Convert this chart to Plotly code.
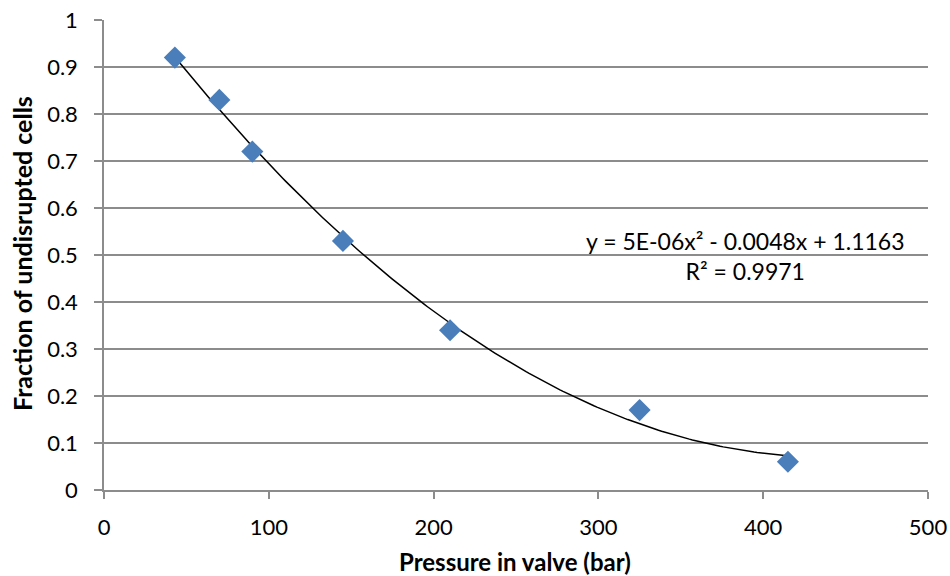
import numpy as np
import plotly.graph_objects as go

pressure_bar = [43, 70, 90, 145, 210, 325, 415]
fraction_undisrupted = [0.92, 0.83, 0.72, 0.53, 0.34, 0.17, 0.06]
equation_text = "y = 5E-06x² - 0.0048x + 1.1163<br>R² = 0.9971"
x_title = "Pressure in valve (bar)"
y_title = "Fraction of undisrupted cells"
x_ticks = [0, 100, 200, 300, 400, 500]
y_ticks = [0, 0.1, 0.2, 0.3, 0.4, 0.5, 0.6, 0.7, 0.8, 0.9, 1]

# Polynomial (order 2) trendline fitted from the data, as Excel does
coef = np.polyfit(pressure_bar, fraction_undisrupted, 2)
xt = np.linspace(min(pressure_bar), max(pressure_bar), 200)
yt = np.polyval(coef, xt)

FONT = "Lato, 'Open Sans', sans-serif"
GRAY = "#8c8c8c"
W, H = 950, 576
L, R, T, B = 104, 22, 20, 86
pw, ph = W - L - R, H - T - B

def px(xp):
    return (xp - L) / pw

def py(yp):
    return (H - B - yp) / ph

fig = go.Figure()
fig.add_trace(go.Scatter(x=xt, y=yt, mode="lines",
                         line=dict(color="black", width=1.5),
                         hoverinfo="skip", showlegend=False))
fig.add_trace(go.Scatter(x=pressure_bar, y=fraction_undisrupted, mode="markers",
                         marker=dict(symbol="diamond", size=17, color="#4a7ebb",
                                     line=dict(width=0)),
                         showlegend=False))

fig.add_annotation(xref="paper", yref="paper", x=px(745), y=py(256),
                   xanchor="center", yanchor="middle",
                   text=equation_text, showarrow=False, align="center",
                   font=dict(family=FONT, size=23, color="black"))
fig.add_annotation(xref="paper", yref="paper", x=px(515), y=py(561),
                   xanchor="center", yanchor="middle",
                   text="<b>" + x_title + "</b>", showarrow=False,
                   font=dict(family=FONT, size=24, color="black"))
fig.add_annotation(xref="paper", yref="paper", x=px(22), y=py(254),
                   xanchor="center", yanchor="middle",
                   text="<b>" + y_title + "</b>", showarrow=False, textangle=-90,
                   font=dict(family=FONT, size=25, color="black"))

fig.update_layout(
    width=W, height=H,
    margin=dict(l=L, r=R, t=T, b=B, autoexpand=False),
    paper_bgcolor="white", plot_bgcolor="white",
    font=dict(family=FONT, size=22, color="black"),
    xaxis=dict(range=[0, 500], tickvals=x_ticks, showgrid=False, zeroline=False,
               showline=True, linecolor=GRAY, linewidth=1.5, automargin=False,
               ticks="outside", ticklen=7, tickcolor=GRAY, tickwidth=1.5,
               ticklabelstandoff=10, tickfont=dict(size=22)),
    yaxis=dict(range=[0, 1], tickvals=y_ticks, showgrid=True,
               gridcolor=GRAY, gridwidth=1.5, zeroline=False, automargin=False,
               showline=True, linecolor=GRAY, linewidth=1.5,
               ticks="outside", ticklen=8, tickcolor=GRAY, tickwidth=1.5,
               ticklabelstandoff=12, tickfont=dict(size=22)),
)

fig.write_html("out.html", config={"displayModeBar": False},
               post_script="document.body.style.margin='0';")
